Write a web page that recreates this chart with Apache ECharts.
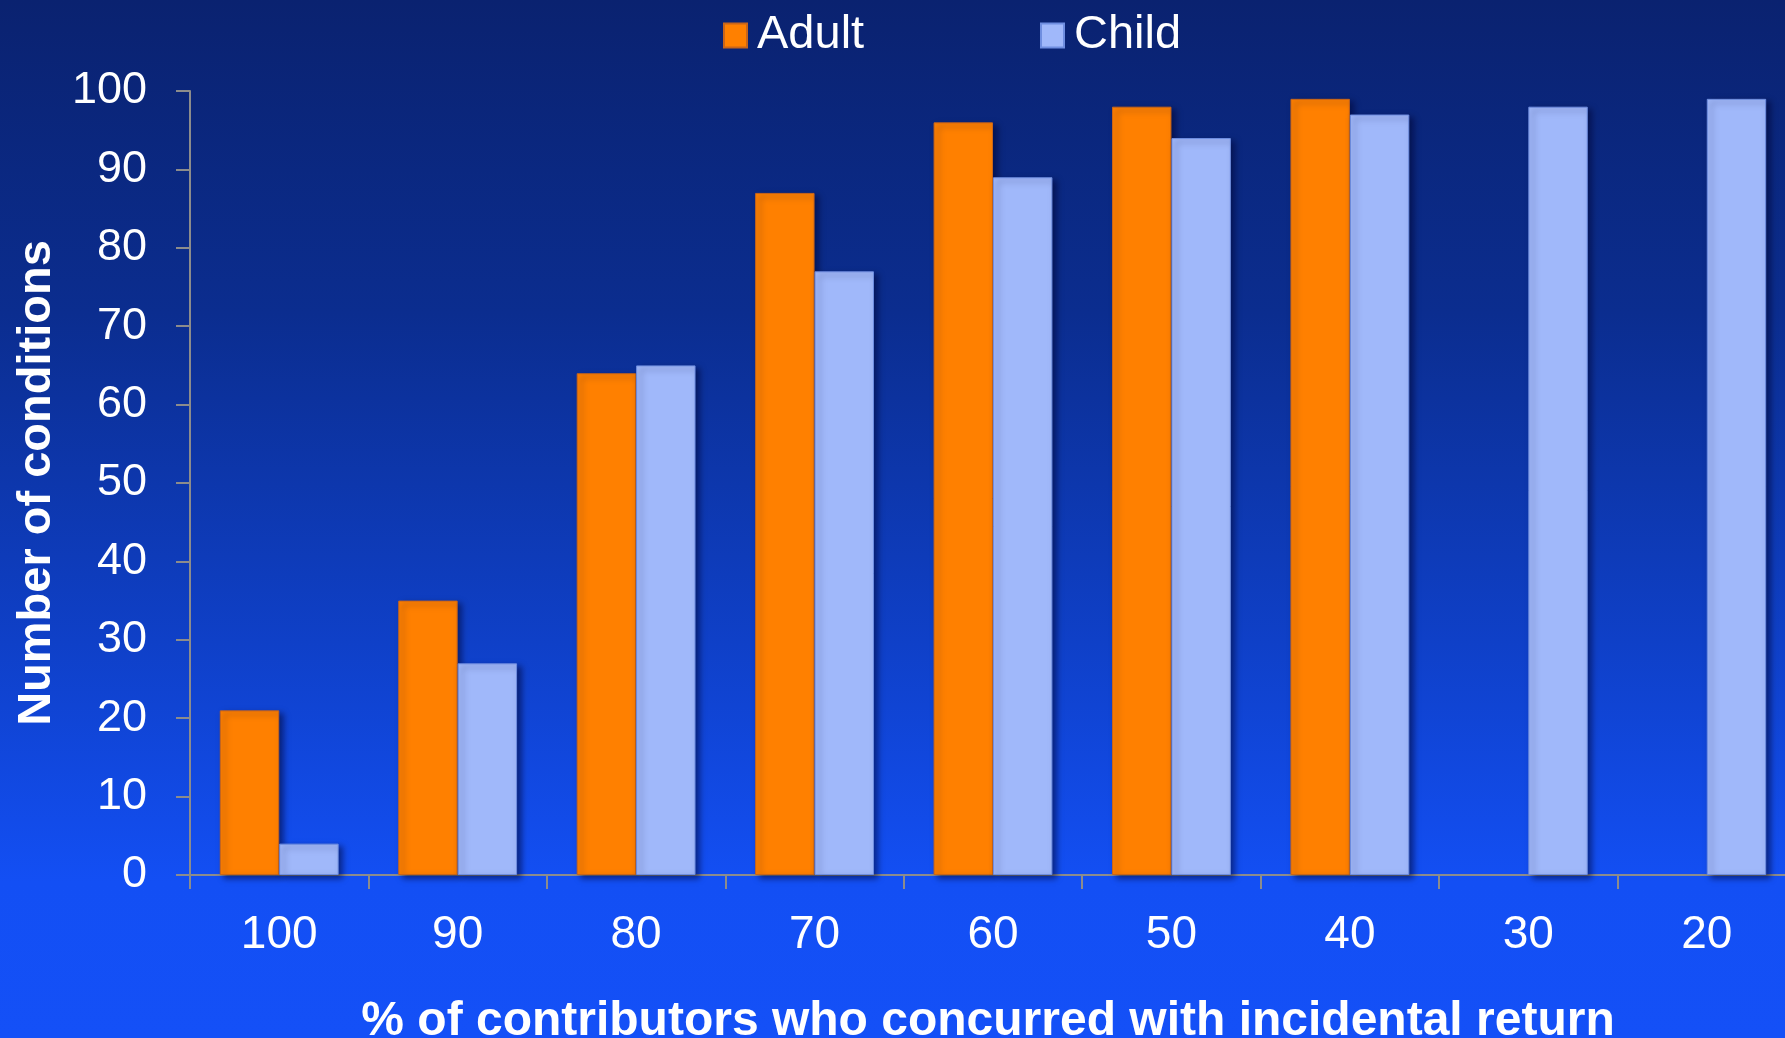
<!DOCTYPE html>
<html>
<head>
<meta charset="utf-8">
<title>Number of conditions by contributor concurrence</title>
<script src="https://cdn.jsdelivr.net/npm/echarts@6/dist/echarts.min.js"></script>
<style>
  html, body { margin: 0; padding: 0; }
  body {
    width: 1785px; height: 1038px; overflow: hidden;
    background: linear-gradient(to bottom, #0a2270 0%, #0b2d8f 30%, #0f40c8 62%, #134ff4 85%, #1450f7 100%);
  }
  #chart { width: 1785px; height: 1038px; }
</style>
</head>
<body>
<div id="chart"></div>
<script>
// Concurrence thresholds (% of contributors who agreed on incidental return)
const categories = ['100', '90', '80', '70', '60', '50', '40', '30', '20'];
// Number of conditions reaching each threshold
const adultValues = [21, 35, 64, 87, 96, 98, 99, null, null];
const childValues = [4, 27, 65, 77, 89, 94, 97, 98, 99];
// Y axis scale
const yMin = 0;
const yMax = 100;
const yStep = 10;

const FONT = '"Liberation Sans", Arial, Helvetica, sans-serif';
const AXIS_GREY = '#8c8c8c';

const chart = echarts.init(document.getElementById('chart'), null, { renderer: 'canvas' });

const barShadow = {
  shadowColor: 'rgba(0, 8, 50, 0.55)',
  shadowBlur: 6,
  shadowOffsetX: 4,
  shadowOffsetY: 3
};

const legendCommon = {
  top: 7,
  itemWidth: 23,
  itemHeight: 24,
  icon: 'rect',
  selectedMode: false,
  textStyle: { color: '#ffffff', fontSize: 47, lineHeight: 47, fontFamily: FONT, padding: [0, 0, 0, 5] }
};

chart.setOption({
  backgroundColor: 'transparent',
  animation: false,
  legend: [
    Object.assign({ left: 718, data: ['Adult'] }, legendCommon),
    Object.assign({ left: 1035, data: ['Child'] }, legendCommon)
  ],
  grid: { left: 190, right: -11, top: 91, bottom: 163, containLabel: false, outerBoundsMode: 'none' },
  xAxis: {
    type: 'category',
    data: categories,
    boundaryGap: true,
    name: '% of contributors who concurred with incidental return',
    nameLocation: 'middle',
    nameGap: 123,
    nameTextStyle: { color: '#ffffff', fontSize: 48, fontWeight: 'bold', fontFamily: FONT, padding: [0, 10, 0, 0] },
    axisLine: { show: true, lineStyle: { color: AXIS_GREY, width: 2 } },
    axisTick: { show: true, length: 14, alignWithLabel: false, lineStyle: { color: AXIS_GREY, width: 2 } },
    axisLabel: { color: '#ffffff', fontSize: 46, fontFamily: FONT, margin: 37 },
    splitLine: { show: false }
  },
  yAxis: {
    type: 'value',
    min: yMin,
    max: yMax,
    interval: yStep,
    name: 'Number of conditions',
    nameLocation: 'middle',
    nameGap: 128,
    nameRotate: 90,
    nameTextStyle: { color: '#ffffff', fontSize: 47, fontWeight: 'bold', fontFamily: FONT },
    axisLine: { show: true, lineStyle: { color: AXIS_GREY, width: 2 } },
    axisTick: { show: true, length: 14, lineStyle: { color: AXIS_GREY, width: 2 } },
    axisLabel: { color: '#ffffff', fontSize: 45, fontFamily: FONT, margin: 43 },
    splitLine: { show: false }
  },
  series: [
    {
      name: 'Adult',
      type: 'bar',
      data: adultValues,
      barGap: '0%',
      barCategoryGap: '33.4%',
      itemStyle: Object.assign({ color: '#ff8000', borderColor: '#c8651a', borderWidth: 1 }, barShadow)
    },
    {
      name: 'Child',
      type: 'bar',
      data: childValues,
      barGap: '0%',
      barCategoryGap: '33.4%',
      itemStyle: Object.assign({ color: '#a0b8fa', borderColor: '#6f8ee0', borderWidth: 1 }, barShadow)
    }
  ]
});
</script>
</body>
</html>
